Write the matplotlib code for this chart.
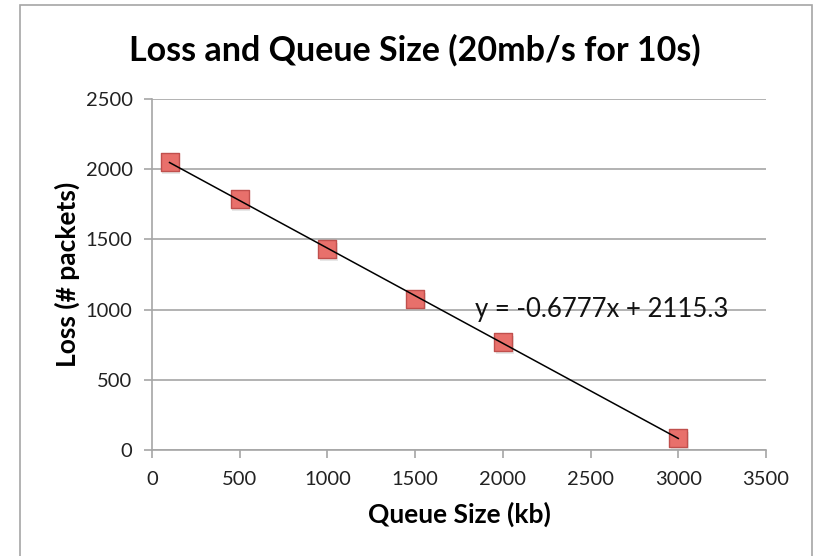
import numpy as np
import matplotlib
matplotlib.use("Agg")
import matplotlib.pyplot as plt
from matplotlib.patches import Rectangle

# Data
queue_kb = [100, 500, 1000, 1500, 2000, 3000]
loss_packets = [2050, 1785, 1430, 1075, 770, 85]

# trendline shown on the chart
slope = -0.6777
intercept = 2115.3
eq_label = "y = -0.6777x + 2115.3"

x_ticks = [0, 500, 1000, 1500, 2000, 2500, 3000, 3500]
y_ticks = [0, 500, 1000, 1500, 2000, 2500]

plt.rcParams["font.family"] = ["Lato", "DejaVu Sans"]

fig = plt.figure(figsize=(8.15, 5.56), dpi=100)
ax = fig.add_axes([152 / 815, 1 - 450 / 556, 614 / 815, 351 / 556])

# chart border like excel
fig.patches.append(Rectangle((20 / 815, -0.05), 792 / 815, 1.05 - 5 / 556,
                             transform=fig.transFigure, fill=False,
                             edgecolor="#A6A6A6", linewidth=1.2))

grid_col = "#A6A6A6"
ax.set_xlim(0, 3500)
ax.set_ylim(0, 2500)
ax.set_xticks(x_ticks)
ax.set_yticks(y_ticks)
ax.yaxis.grid(True, color=grid_col, linewidth=1.2)
ax.set_axisbelow(True)
for s in ["top", "right"]:
    ax.spines[s].set_visible(False)
for s in ["left", "bottom"]:
    ax.spines[s].set_color(grid_col)
    ax.spines[s].set_linewidth(1.2)
ax.tick_params(axis="both", colors=grid_col, labelcolor="#222222",
               labelsize=14.5, length=6, width=1.2)
ax.tick_params(axis="x", pad=9)
ax.tick_params(axis="y", pad=8)

# trendline
xl = np.array([queue_kb[0], queue_kb[-1]])
ax.plot(xl, slope * xl + intercept, color="black", linewidth=1.1, zorder=3)

# markers with little shadow
ax.scatter(np.array(queue_kb) + 10, np.array(loss_packets) - 20, marker="s", s=175,
           color="#bbbbbb", alpha=0.35, linewidths=0, zorder=2)
ax.scatter(queue_kb, loss_packets, marker="s", s=175, facecolor="#E8706B",
           edgecolor="#C0504D", linewidths=1.0, zorder=2.5)

ax.text(1840, 1000, eq_label, fontsize=18.5, color="#111111", va="center", ha="left", zorder=4)

ax.set_xlabel("Queue Size (kb)", fontsize=19, fontweight="bold", labelpad=10)
ax.set_ylabel("Loss (# packets)", fontsize=19, fontweight="bold")
ax.yaxis.set_label_coords(-0.117, 0.5)
fig.text(415 / 815, 1 - 50 / 556, "Loss and Queue Size (20mb/s for 10s)",
         fontsize=24.5, fontweight="bold", ha="center", va="center")

fig.savefig("out.png", dpi=100)
